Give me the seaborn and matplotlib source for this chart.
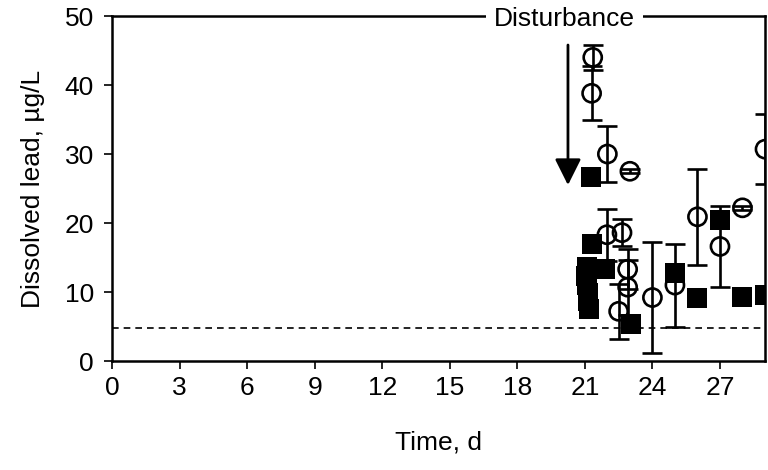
import matplotlib
matplotlib.use("Agg")
import matplotlib.pyplot as plt
import seaborn as sns
import pandas as pd

# Dissolved lead, open circles (with standard deviation)
circle_days = [21.35, 21.3, 22.0, 23.0, 21.98, 22.65, 22.9, 22.9, 22.5, 24.0, 25.0, 26.0, 27.0, 28.0, 29.0]
circle_vals = [44.0, 38.8, 30.0, 27.5, 18.3, 18.6, 13.3, 10.7, 7.2, 9.2, 11.0, 20.9, 16.6, 22.2, 30.7]
circle_err = [1.8, 3.9, 4.0, 0.3, 3.8, 2.0, 2.9, 4.0, 4.0, 8.0, 6.0, 7.0, 5.9, 0.3, 5.1]

# Dissolved lead, filled squares
square_days = [21.28, 21.3, 21.9, 21.09, 21.07, 21.1, 21.12, 21.15, 21.17, 23.05, 25.0, 26.0, 27.0, 28.0, 29.0]
square_vals = [26.6, 17.0, 13.4, 13.6, 12.3, 11.0, 9.8, 8.7, 7.6, 5.3, 12.7, 9.1, 20.4, 9.3, 9.6]

x_ticks = [0, 3, 6, 9, 12, 15, 18, 21, 24, 27]
y_ticks = [0, 10, 20, 30, 40, 50]
baseline_level = 4.8
disturbance_day = 20.25

circles = pd.DataFrame({"day": circle_days, "lead": circle_vals, "sd": circle_err})
squares = pd.DataFrame({"day": square_days, "lead": square_vals})

sns.set_theme(style="ticks")
plt.rcParams["font.family"] = ["Liberation Sans", "DejaVu Sans"]
plt.rcParams["axes.linewidth"] = 1.8
plt.rcParams["xtick.major.width"] = 1.2
plt.rcParams["ytick.major.width"] = 1.2
plt.rcParams["xtick.major.size"] = 6
plt.rcParams["ytick.major.size"] = 6

FS = 19

fig = plt.figure(figsize=(7.68, 4.70), dpi=100)
ax = fig.add_axes([0.1458, 0.2319, 0.8503, 0.7340])

ax.axhline(baseline_level, color="black", lw=1.2, ls=(0, (4, 3)), zorder=1)

sns.scatterplot(data=circles, x="day", y="lead", marker="o", s=170,
                facecolors="none", edgecolor="black", linewidth=1.9,
                ax=ax, zorder=3, legend=False)
ax.errorbar(circles["day"], circles["lead"], yerr=circles["sd"], fmt="none",
            ecolor="black", elinewidth=1.9, capsize=7, capthick=1.9, zorder=4)
sns.scatterplot(data=squares, x="day", y="lead", marker="s", s=220,
                color="black", edgecolor="black", linewidth=0,
                ax=ax, zorder=5, legend=False)

ax.set_xlim(0, 29)
ax.set_ylim(0, 50)
ax.set_xticks(x_ticks)
ax.set_yticks(y_ticks)
ax.tick_params(axis="both", labelsize=FS, direction="out", colors="black")
ax.tick_params(axis="y", pad=7)
ax.tick_params(axis="x", pad=5)

for side in ["left", "right", "top", "bottom"]:
    ax.spines[side].set_visible(True)
    ax.spines[side].set_color("black")

ax.set_xlabel("Time, d", fontsize=FS, labelpad=22, color="black")
ax.set_ylabel("Dissolved lead, µg/L", fontsize=FS, labelpad=14, color="black")

ax.annotate("", xy=(disturbance_day, 25.5), xytext=(disturbance_day, 45.8),
            arrowprops=dict(arrowstyle="-|>,head_length=0.8,head_width=0.4",
                            color="black", lw=2.0, mutation_scale=20,
                            shrinkA=0, shrinkB=0), zorder=6)
ax.text(20.1, 49.5, "Disturbance", fontsize=FS, ha="center", va="center",
        color="black", zorder=10, clip_on=False,
        bbox=dict(boxstyle="square,pad=0.3", facecolor="white", edgecolor="none"))

fig.savefig("out.png", dpi=100)
